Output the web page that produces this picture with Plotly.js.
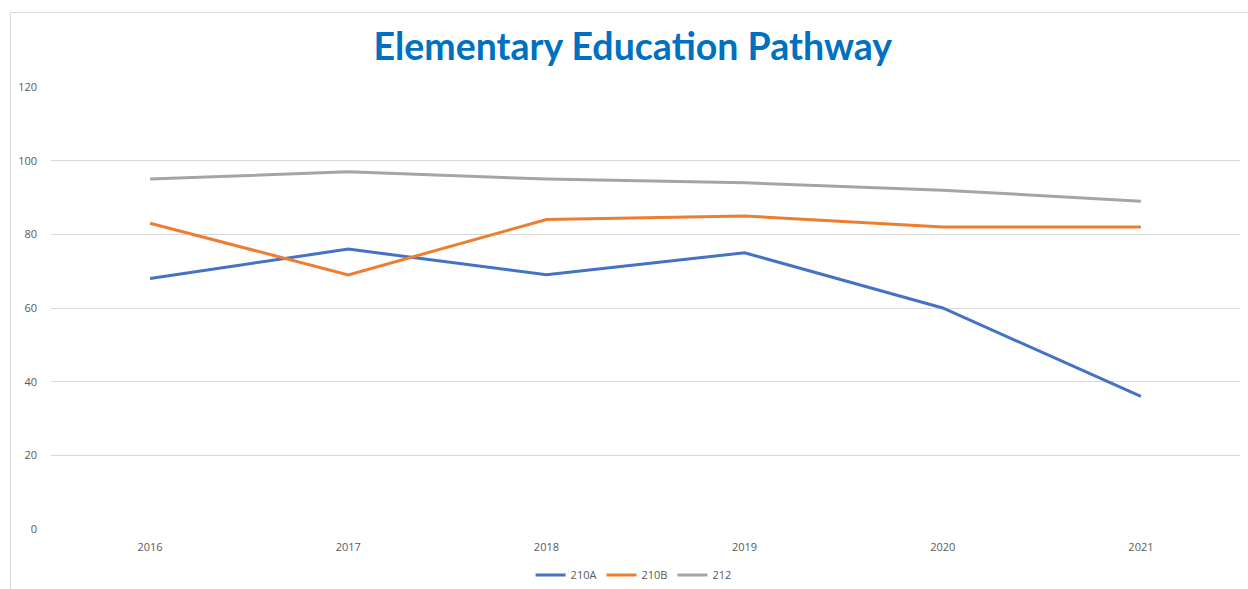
<!DOCTYPE html>
<html>
<head>
<meta charset="utf-8">
<script src="https://cdn.plot.ly/plotly-3.0.1.min.js"></script>
<style>
  html, body { margin: 0; padding: 0; background: #fff; }
  #wrap { position: relative; width: 1248px; height: 589px; overflow: hidden; }
  #frame { position: absolute; left: 10px; top: 12px; width: 1250px; height: 600px;
           border-left: 1px solid #d9d9d9; border-top: 1px solid #d9d9d9; box-sizing: border-box; }
  #chart { position: absolute; left: 0; top: 0; width: 1248px; height: 589px; }
</style>
</head>
<body>
<div id="wrap">
  <div id="frame"></div>
  <div id="chart"></div>
</div>
<script>
const years = ['2016', '2017', '2018', '2019', '2020', '2021'];
const s210A = [68, 76, 69, 75, 60, 36];
const s210B = [83, 69, 84, 85, 82, 82];
const s212 = [95, 97, 95, 94, 92, 89];
const seriesNames = ['210A', '210B', '212'];
const seriesColors = ['#4472C4', '#ED7D31', '#A5A5A5'];
const yTicks = [0, 20, 40, 60, 80, 100, 120];

const allSeries = [s210A, s210B, s212];
const traces = allSeries.map((vals, i) => ({
  type: 'scatter',
  mode: 'lines',
  x: years,
  y: vals,
  name: seriesNames[i],
  line: { color: seriesColors[i], width: 3 },
  hoverinfo: 'x+y+name'
}));

const layout = {
  width: 1248,
  height: 589,
  paper_bgcolor: 'rgba(0,0,0,0)',
  plot_bgcolor: 'rgba(0,0,0,0)',
  margin: { l: 51, r: 8, t: 87, b: 60, autoexpand: false },
  font: { family: 'Open Sans, sans-serif', color: '#595959', size: 11 },
  title: {
    text: 'Elementary Education Pathway',
    font: { family: 'Lato, sans-serif', size: 37.5, color: '#0070C0', weight: 'bold' },
    x: 0.507, xanchor: 'center',
    y: 0.92, yanchor: 'middle', yref: 'container'
  },
  xaxis: {
    type: 'category',
    range: [-0.5, 5.5],
    showgrid: false,
    zeroline: false,
    showline: false,
    ticks: '',
    tickfont: { size: 11, color: '#595959' },
    ticklabelstandoff: 10
  },
  yaxis: {
    range: [0, 120],
    tickvals: yTicks,
    ticktext: yTicks.map(String),
    showgrid: true,
    gridcolor: '#d9d9d9',
    gridwidth: 1,
    zeroline: false,
    showline: false,
    ticks: '',
    tickfont: { size: 11, color: '#595959' },
    ticklabelstandoff: 13
  },
  showlegend: true,
  legend: {
    orientation: 'h',
    x: 0.49, xanchor: 'center',
    y: -0.104, yanchor: 'middle',
    font: { size: 11, color: '#595959' },
    itemwidth: 30,
    traceorder: 'normal'
  }
};

Plotly.newPlot('chart', traces, layout, { displayModeBar: false, staticPlot: true });
</script>
</body>
</html>
